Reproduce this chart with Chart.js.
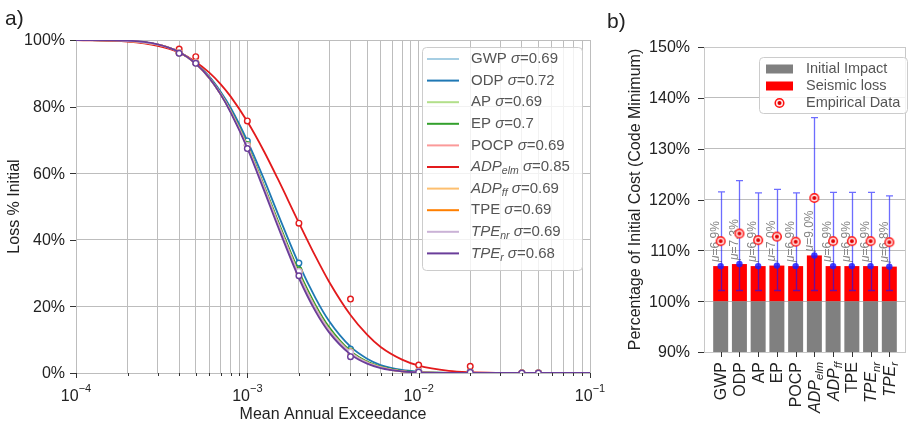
<!DOCTYPE html>
<html>
<head>
<meta charset="utf-8">
<script src="https://cdn.jsdelivr.net/npm/chart.js@4.4.1/dist/chart.umd.min.js"></script>
<style>
html, body { margin: 0; padding: 0; background: #fff; }
#wrap { position: relative; width: 913px; height: 424px; overflow: hidden; background: #fff; }
canvas { position: absolute; top: 0; }
#lossChart { left: 0; }
#costChart { left: 600px; }
</style>
</head>
<body>
<div id="wrap">
  <canvas id="lossChart" width="640" height="424"></canvas>
  <canvas id="costChart" width="313" height="424"></canvas>
</div>
<script>
// ---- impact categories ----
const seriesNames  = ['GWP', 'ODP', 'AP', 'EP', 'POCP', 'ADP', 'ADP', 'TPE', 'TPE', 'TPE'];
const seriesSubs   = ['', '', '', '', '', 'elm', 'ff', '', 'nr', 'r'];
const seriesItalic = [false, false, false, false, false, true, true, false, true, true];
const sigmaLabels  = ['0.69', '0.72', '0.69', '0.7', '0.69', '0.85', '0.69', '0.69', '0.69', '0.68'];
const seriesColors = ['#a6cee3', '#1f78b4', '#b2df8a', '#33a02c', '#fb9a99',
                      '#e31a1c', '#fdbf6f', '#ff7f00', '#cab2d6', '#6a3d9a'];

// ---- fitted lognormal loss curves (loss % of initial vs. annual exceedance) ----
const exceedFit = [1e-4, 2e-4, 3e-4, 4e-4, 5e-4, 6e-4, 7e-4, 8e-4, 1e-3, 1.25e-3, 1.5e-3, 2e-3,
                   2.5e-3, 3e-3, 4e-3, 5e-3, 6e-3, 8e-3, 1e-2, 1.5e-2, 2e-2, 3e-2, 5e-2, 1e-1];
const fitGWP    = [100, 99.7, 98.6, 96.4, 92.9, 88.6, 83.7, 78.5, 68.0, 55.7, 45.2, 29.5, 19.5, 13.0, 6.2, 3.1, 1.7, 0.5, 0.2, 0.02, 0, 0, 0, 0];
const fitODP    = [100, 99.7, 98.6, 96.3, 93.0, 89.0, 84.4, 79.6, 69.7, 58.2, 48.1, 32.7, 22.5, 15.6, 7.9, 4.3, 2.4, 0.9, 0.4, 0.05, 0.01, 0, 0, 0];
const fitAP     = [100, 99.7, 98.6, 96.4, 92.9, 88.6, 83.7, 78.5, 68.0, 55.7, 45.2, 29.5, 19.5, 13.0, 6.2, 3.1, 1.7, 0.5, 0.2, 0.02, 0, 0, 0, 0];
const fitEP     = [100, 99.7, 98.6, 96.4, 92.9, 88.7, 83.9, 78.8, 68.5, 56.3, 46.0, 30.5, 20.4, 13.8, 6.6, 3.4, 1.9, 0.6, 0.25, 0.03, 0, 0, 0, 0];
const fitPOCP   = [100, 99.7, 98.6, 96.4, 92.9, 88.6, 83.7, 78.5, 68.0, 55.7, 45.2, 29.5, 19.5, 13.0, 6.2, 3.1, 1.7, 0.5, 0.2, 0.02, 0, 0, 0, 0];
const fitADPelm = [100, 99.5, 98.2, 96.2, 93.4, 90.2, 86.7, 83.0, 75.5, 66.6, 58.5, 45.1, 35.0, 27.4, 17.4, 11.5, 7.8, 4.0, 2.2, 0.64, 0.23, 0.05, 0, 0];
const fitADPff  = [100, 99.7, 98.6, 96.4, 92.9, 88.6, 83.7, 78.5, 68.0, 55.7, 45.2, 29.5, 19.5, 13.0, 6.2, 3.1, 1.7, 0.5, 0.2, 0.02, 0, 0, 0, 0];
const fitTPE    = [100, 99.7, 98.6, 96.4, 92.9, 88.6, 83.7, 78.5, 68.0, 55.7, 45.2, 29.5, 19.5, 13.0, 6.2, 3.1, 1.7, 0.5, 0.2, 0.02, 0, 0, 0, 0];
const fitTPEnr  = [100, 99.7, 98.6, 96.4, 92.9, 88.6, 83.7, 78.5, 68.0, 55.7, 45.2, 29.5, 19.5, 13.0, 6.2, 3.1, 1.7, 0.5, 0.2, 0.02, 0, 0, 0, 0];
const fitTPEr   = [100, 99.8, 98.7, 96.4, 92.9, 88.6, 83.6, 78.2, 67.5, 54.9, 44.3, 28.5, 18.5, 12.2, 5.6, 2.8, 1.5, 0.5, 0.17, 0.02, 0, 0, 0, 0];

// ---- observed loss points ----
const exceedObs = [4e-4, 5e-4, 1e-3, 2e-3, 4e-3, 1e-2, 2e-2, 4e-2, 5e-2];
const obsGWP    = [96.2, 93.2, 68.3, 30.5, 6.3, 0.5, 0.3, 0, 0];
const obsODP    = [96.1, 93.2, 69.7, 33.0, 7.2, 0.6, 0.4, 0, 0];
const obsAP     = [96.2, 93.2, 68.3, 30.5, 6.3, 0.5, 0.3, 0, 0];
const obsEP     = [96.2, 93.2, 68.6, 31.0, 6.6, 0.6, 0.4, 0, 0];
const obsPOCP   = [96.2, 93.2, 68.3, 30.5, 6.3, 0.5, 0.3, 0, 0];
const obsADPelm = [97.3, 95.0, 75.7, 45.0, 22.2, 2.4, 2.0, 0, 0];
const obsADPff  = [96.2, 93.2, 68.3, 30.5, 6.3, 0.5, 0.3, 0, 0];
const obsTPE    = [96.2, 93.2, 68.3, 30.5, 6.3, 0.5, 0.3, 0, 0];
const obsTPEnr  = [96.2, 93.2, 68.3, 30.5, 6.3, 0.5, 0.3, 0, 0];
const obsTPEr   = [96.0, 93.0, 67.4, 29.2, 4.9, 0.3, 0.2, 0, 0];

// ---- cost summary (percent of code-minimum initial cost) ----
const initialImpact = [100, 100, 100, 100, 100, 100, 100, 100, 100, 100];
const seismicMean   = [6.9, 7.3, 6.9, 7.0, 6.9, 9.0, 6.9, 6.9, 6.9, 6.8];
const errLow        = [102.1, 102.1, 102.1, 102.1, 102.1, 102.1, 102.1, 102.1, 102.1, 102.1];
const errHigh       = [121.5, 123.7, 121.3, 122.0, 121.3, 136.1, 121.4, 121.4, 121.4, 120.7];
const empiricalCost = [111.8, 113.3, 112.0, 112.7, 111.7, 120.3, 111.8, 111.8, 111.8, 111.6];

// ---- tick labels ----
const xDecades    = [1e-4, 1e-3, 1e-2, 1e-1];
const xDecadeExp  = ['\u22124', '\u22123', '\u22122', '\u22121'];
const xMinorMult  = [2, 3, 4, 5, 6, 7, 8, 9];
const lossTicks   = [0, 20, 40, 60, 80, 100];
const costTicks   = [90, 100, 110, 120, 130, 140, 150];
const costLegend  = ['Initial Impact', 'Seismic loss', 'Empirical Data'];

const FONT = '"Liberation Sans", Arial, Helvetica, sans-serif';
const GRID = '#bdbdbd';
const INK = '#222222';
const LEGEND_INK = '#555555';
const ERR_BLUE = 'rgba(20,20,255,0.62)';

const fitSets = [fitGWP, fitODP, fitAP, fitEP, fitPOCP, fitADPelm, fitADPff, fitTPE, fitTPEnr, fitTPEr];
const obsSets = [obsGWP, obsODP, obsAP, obsEP, obsPOCP, obsADPelm, obsADPff, obsTPE, obsTPEnr, obsTPEr];

// rich text: list of {text, italic, sub}
function setFont(ctx, size, italic) {
  ctx.font = (italic ? 'italic ' : '') + size + 'px ' + FONT;
}
function richWidth(ctx, segs, size) {
  let w = 0;
  segs.forEach(s => {
    setFont(ctx, s.sub ? size * 0.7 : size, s.italic);
    w += ctx.measureText(s.text).width;
  });
  return w;
}
function drawRich(ctx, x, y, segs, size) {
  let cx = x;
  segs.forEach(s => {
    const sz = s.sub ? size * 0.7 : size;
    setFont(ctx, sz, s.italic);
    ctx.fillText(s.text, cx, y + (s.sub ? size * 0.3 : 0));
    cx += ctx.measureText(s.text).width;
  });
  return cx - x;
}
function nameSegs(i) {
  const segs = [{ text: seriesNames[i], italic: seriesItalic[i] }];
  if (seriesSubs[i]) segs.push({ text: seriesSubs[i], italic: true, sub: true });
  return segs;
}

// ================= left panel: loss curves =================
const xTickValues = [];
xDecades.forEach((d, k) => {
  xTickValues.push(d);
  if (k < xDecades.length - 1) xMinorMult.forEach(m => xTickValues.push(d * m));
});

const lossDatasets = [];
seriesNames.forEach((n, i) => {
  lossDatasets.push({
    type: 'line',
    data: exceedFit.map((x, k) => ({ x: x, y: fitSets[i][k] })),
    borderColor: seriesColors[i],
    borderWidth: 1.8,
    pointRadius: 0,
    fill: false,
    cubicInterpolationMode: 'monotone',
    clip: 0,
    order: 20 - 2 * i
  });
  lossDatasets.push({
    type: 'scatter',
    data: exceedObs.map((x, k) => ({ x: x, y: obsSets[i][k] })),
    showLine: false,
    pointRadius: 2.8,
    pointBorderWidth: 1.4,
    borderColor: seriesColors[i],
    backgroundColor: '#ffffff',
    clip: 0,
    order: 19 - 2 * i
  });
});

const lossDecor = {
  id: 'lossDecor',
  afterDraw(chart) {
    const ctx = chart.ctx;
    const xs = chart.scales.x, ys = chart.scales.y;
    const area = chart.chartArea;
    ctx.save();
    // tick marks
    ctx.strokeStyle = '#333';
    ctx.lineWidth = 1;
    xTickValues.forEach(v => {
      const px = Math.round(xs.getPixelForValue(v)) + 0.5;
      const major = xDecades.includes(v);
      ctx.beginPath();
      ctx.moveTo(px, area.bottom);
      ctx.lineTo(px, area.bottom + (major ? 5 : 3));
      ctx.stroke();
    });
    lossTicks.forEach(v => {
      const py = Math.round(ys.getPixelForValue(v)) + 0.5;
      ctx.beginPath();
      ctx.moveTo(area.left - 6, py);
      ctx.lineTo(area.left, py);
      ctx.stroke();
    });
    // tick labels
    ctx.fillStyle = INK;
    ctx.textBaseline = 'middle';
    ctx.textAlign = 'right';
    setFont(ctx, 16, false);
    lossTicks.forEach(v => {
      ctx.fillText(v + '%', area.left - 11, ys.getPixelForValue(v) + 1);
    });
    ctx.textAlign = 'left';
    ctx.textBaseline = 'alphabetic';
    xDecades.forEach((d, k) => {
      const px = xs.getPixelForValue(d);
      setFont(ctx, 16, false);
      const wb = ctx.measureText('10').width;
      setFont(ctx, 11, false);
      const we = ctx.measureText(xDecadeExp[k]).width;
      const x0 = px - (wb + we) / 2;
      setFont(ctx, 16, false);
      ctx.fillText('10', x0, 401);
      setFont(ctx, 11, false);
      ctx.fillText(xDecadeExp[k], x0 + wb, 392);
    });
    // axis titles
    setFont(ctx, 16, false);
    ctx.textAlign = 'center';
    ctx.fillText('Mean Annual Exceedance', (area.left + area.right) / 2, 419);
    ctx.save();
    ctx.translate(19, (area.top + area.bottom) / 2);
    ctx.rotate(-Math.PI / 2);
    ctx.fillText('Loss % Initial', 0, 0);
    ctx.restore();
    // panel tag
    setFont(ctx, 21, false);
    ctx.textAlign = 'left';
    ctx.fillText('a)', 5, 25);

    // legend
    const lx = 422, ly = 47, lw = 160, lh = 223;
    ctx.beginPath();
    ctx.roundRect(lx + 0.5, ly + 0.5, lw, lh, 4);
    ctx.fillStyle = 'rgba(255,255,255,0.8)';
    ctx.fill();
    ctx.strokeStyle = '#cccccc';
    ctx.lineWidth = 1;
    ctx.stroke();
    ctx.textBaseline = 'middle';
    seriesNames.forEach((n, i) => {
      const ry = 59 + i * 21.6;
      ctx.strokeStyle = seriesColors[i];
      ctx.lineWidth = 2;
      ctx.beginPath();
      ctx.moveTo(427, ry);
      ctx.lineTo(459, ry);
      ctx.stroke();
      ctx.fillStyle = LEGEND_INK;
      const segs = nameSegs(i).concat([
        { text: ' ' },
        { text: '\u03c3', italic: true },
        { text: '=' + sigmaLabels[i] }
      ]);
      drawRich(ctx, 471, ry, segs, 15);
    });
    ctx.restore();
  }
};

new Chart(document.getElementById('lossChart'), {
  data: { datasets: lossDatasets },
  options: {
    responsive: false,
    animation: false,
    events: [],
    layout: { padding: { left: 0, right: 50, top: 40, bottom: 0 } },
    plugins: { legend: { display: false }, tooltip: { enabled: false } },
    scales: {
      x: {
        type: 'logarithmic',
        min: 1e-4,
        max: 1e-1,
        offset: false,
        afterBuildTicks: s => { s.ticks = xTickValues.map(v => ({ value: v })); },
        afterFit: s => { s.height = 51; },
        ticks: { display: false, autoSkip: false },
        grid: { color: GRID, lineWidth: 1, drawTicks: false },
        border: { display: false }
      },
      y: {
        type: 'linear',
        min: 0,
        max: 100,
        afterBuildTicks: s => { s.ticks = lossTicks.map(v => ({ value: v })); },
        afterFit: s => { s.width = 76; },
        ticks: { display: false },
        grid: { color: GRID, lineWidth: 1, drawTicks: false },
        border: { display: false }
      }
    }
  },
  plugins: [lossDecor]
});

// ================= right panel: cost breakdown =================
const catIdx = seriesNames.map((n, i) => i);
const barWidthFrac = 0.8;
const catPad = barWidthFrac / 2 + 0.05 * (catIdx.length - 1 + barWidthFrac);

function drawTarget(ctx, x, y) {
  ctx.beginPath();
  ctx.arc(x, y, 4.3, 0, Math.PI * 2);
  ctx.fillStyle = '#ffe8e8';
  ctx.fill();
  ctx.lineWidth = 1.5;
  ctx.strokeStyle = '#ff1010';
  ctx.stroke();
  ctx.beginPath();
  ctx.arc(x, y, 2, 0, Math.PI * 2);
  ctx.fillStyle = '#e00000';
  ctx.fill();
}

const costDecor = {
  id: 'costDecor',
  afterDatasetDraw(chart, args) {
    if (args.index !== 1) return;
    const ctx = chart.ctx;
    const xs = chart.scales.x, ys = chart.scales.y;
    ctx.save();
    // mean annotations
    ctx.fillStyle = '#858585';
    ctx.textBaseline = 'bottom';
    catIdx.forEach(i => {
      const px = xs.getPixelForValue(i);
      const py = ys.getPixelForValue(initialImpact[i] + seismicMean[i]);
      ctx.save();
      ctx.translate(px + 1, py - 4);
      ctx.rotate(-Math.PI / 2);
      drawRich(ctx, 0, 0, [{ text: '\u03bc', italic: true }, { text: '=' + seismicMean[i].toFixed(1) + '%' }], 12);
      ctx.restore();
    });
    // error bars
    ctx.strokeStyle = ERR_BLUE;
    ctx.lineWidth = 1.3;
    catIdx.forEach(i => {
      const px = Math.round(xs.getPixelForValue(i)) + 0.5;
      const y0 = ys.getPixelForValue(errLow[i]);
      const y1 = ys.getPixelForValue(errHigh[i]);
      ctx.beginPath();
      ctx.moveTo(px, y0); ctx.lineTo(px, y1);
      ctx.moveTo(px - 3.5, y0); ctx.lineTo(px + 3.5, y0);
      ctx.moveTo(px - 3.5, y1); ctx.lineTo(px + 3.5, y1);
      ctx.stroke();
    });
    ctx.restore();
  },
  afterDraw(chart) {
    const ctx = chart.ctx;
    const xs = chart.scales.x, ys = chart.scales.y;
    const area = chart.chartArea;
    ctx.save();
    // frame
    ctx.strokeStyle = '#c8c8c8';
    ctx.lineWidth = 1;
    ctx.strokeRect(Math.round(area.left) + 0.5, Math.round(area.top) + 0.5,
                   Math.round(area.right - area.left) - 1, Math.round(area.bottom - area.top));
    // tick marks
    ctx.strokeStyle = '#333';
    costTicks.forEach(v => {
      const py = Math.round(ys.getPixelForValue(v)) + 0.5;
      ctx.beginPath();
      ctx.moveTo(area.left - 6, py);
      ctx.lineTo(area.left, py);
      ctx.stroke();
    });
    catIdx.forEach(i => {
      const px = Math.round(xs.getPixelForValue(i)) + 0.5;
      ctx.beginPath();
      ctx.moveTo(px, area.bottom);
      ctx.lineTo(px, area.bottom + 5);
      ctx.stroke();
    });
    // tick labels
    ctx.fillStyle = INK;
    ctx.textBaseline = 'middle';
    ctx.textAlign = 'right';
    setFont(ctx, 16, false);
    costTicks.forEach(v => {
      ctx.fillText(v + '%', area.left - 14, ys.getPixelForValue(v) + 1);
    });
    ctx.textAlign = 'left';
    catIdx.forEach(i => {
      const px = xs.getPixelForValue(i);
      const segs = nameSegs(i);
      const w = richWidth(ctx, segs, 16);
      ctx.save();
      ctx.translate(px + 1, area.bottom + 10);
      ctx.rotate(-Math.PI / 2);
      drawRich(ctx, -w, 0, segs, 16);
      ctx.restore();
    });
    // axis title
    setFont(ctx, 16, false);
    ctx.textAlign = 'center';
    ctx.textBaseline = 'alphabetic';
    ctx.save();
    ctx.translate(40, (area.top + area.bottom) / 2);
    ctx.rotate(-Math.PI / 2);
    ctx.fillText('Percentage of Initial Cost (Code Minimum)', 0, 0);
    ctx.restore();
    // panel tag
    setFont(ctx, 21, false);
    ctx.textAlign = 'left';
    ctx.fillText('b)', 7, 28);

    // legend
    const lx = 159, ly = 57, lw = 148, lh = 56;
    ctx.beginPath();
    ctx.roundRect(lx + 0.5, ly + 0.5, lw, lh, 4);
    ctx.fillStyle = 'rgba(255,255,255,0.8)';
    ctx.fill();
    ctx.strokeStyle = '#cccccc';
    ctx.lineWidth = 1;
    ctx.stroke();
    const rows = [69, 86, 103];
    ctx.fillStyle = '#808080';
    ctx.fillRect(166, rows[0] - 4.5, 27, 9);
    ctx.fillStyle = '#ff0000';
    ctx.fillRect(166, rows[1] - 4.5, 27, 9);
    drawTarget(ctx, 179.5, rows[2]);
    ctx.fillStyle = LEGEND_INK;
    ctx.textBaseline = 'middle';
    setFont(ctx, 14.5, false);
    costLegend.forEach((t, k) => ctx.fillText(t, 206, rows[k]));
    ctx.restore();
  }
};

const targetStyle = (() => {
  const c = document.createElement('canvas');
  c.width = 12; c.height = 12;
  drawTarget(c.getContext('2d'), 6, 6);
  return c;
})();

new Chart(document.getElementById('costChart'), {
  data: {
    datasets: [
      {
        type: 'bar',
        label: costLegend[0],
        data: catIdx.map(i => ({ x: i, y: initialImpact[i] })),
        backgroundColor: '#808080',
        grouped: false,
        categoryPercentage: barWidthFrac,
        barPercentage: 1,
        order: 10
      },
      {
        type: 'bar',
        label: costLegend[1],
        data: catIdx.map(i => ({ x: i, y: [initialImpact[i], initialImpact[i] + seismicMean[i]] })),
        backgroundColor: '#ff0000',
        grouped: false,
        categoryPercentage: barWidthFrac,
        barPercentage: 1,
        order: 9
      },
      {
        type: 'scatter',
        data: catIdx.map(i => ({ x: i, y: initialImpact[i] + seismicMean[i] })),
        pointRadius: 3.2,
        pointBorderWidth: 0,
        backgroundColor: 'rgba(30,30,255,0.85)',
        order: 3
      },
      {
        type: 'scatter',
        label: costLegend[2],
        data: catIdx.map(i => ({ x: i, y: empiricalCost[i] })),
        pointStyle: targetStyle,
        pointRadius: 6,
        order: 2
      }
    ]
  },
  options: {
    responsive: false,
    animation: false,
    events: [],
    layout: { padding: { left: 0, right: 1, top: 47, bottom: 0 } },
    plugins: { legend: { display: false }, tooltip: { enabled: false } },
    scales: {
      x: {
        type: 'linear',
        min: -catPad,
        max: catIdx.length - 1 + catPad,
        offset: false,
        afterFit: s => { s.height = 72; },
        ticks: { display: false },
        grid: { display: false, offset: false },
        border: { display: false }
      },
      y: {
        type: 'linear',
        min: 90,
        max: 150,
        afterBuildTicks: s => { s.ticks = costTicks.map(v => ({ value: v })); },
        afterFit: s => { s.width = 104; },
        ticks: { display: false },
        grid: { color: GRID, lineWidth: 1, drawTicks: false },
        border: { display: false }
      }
    }
  },
  plugins: [costDecor]
});
</script>
</body>
</html>
